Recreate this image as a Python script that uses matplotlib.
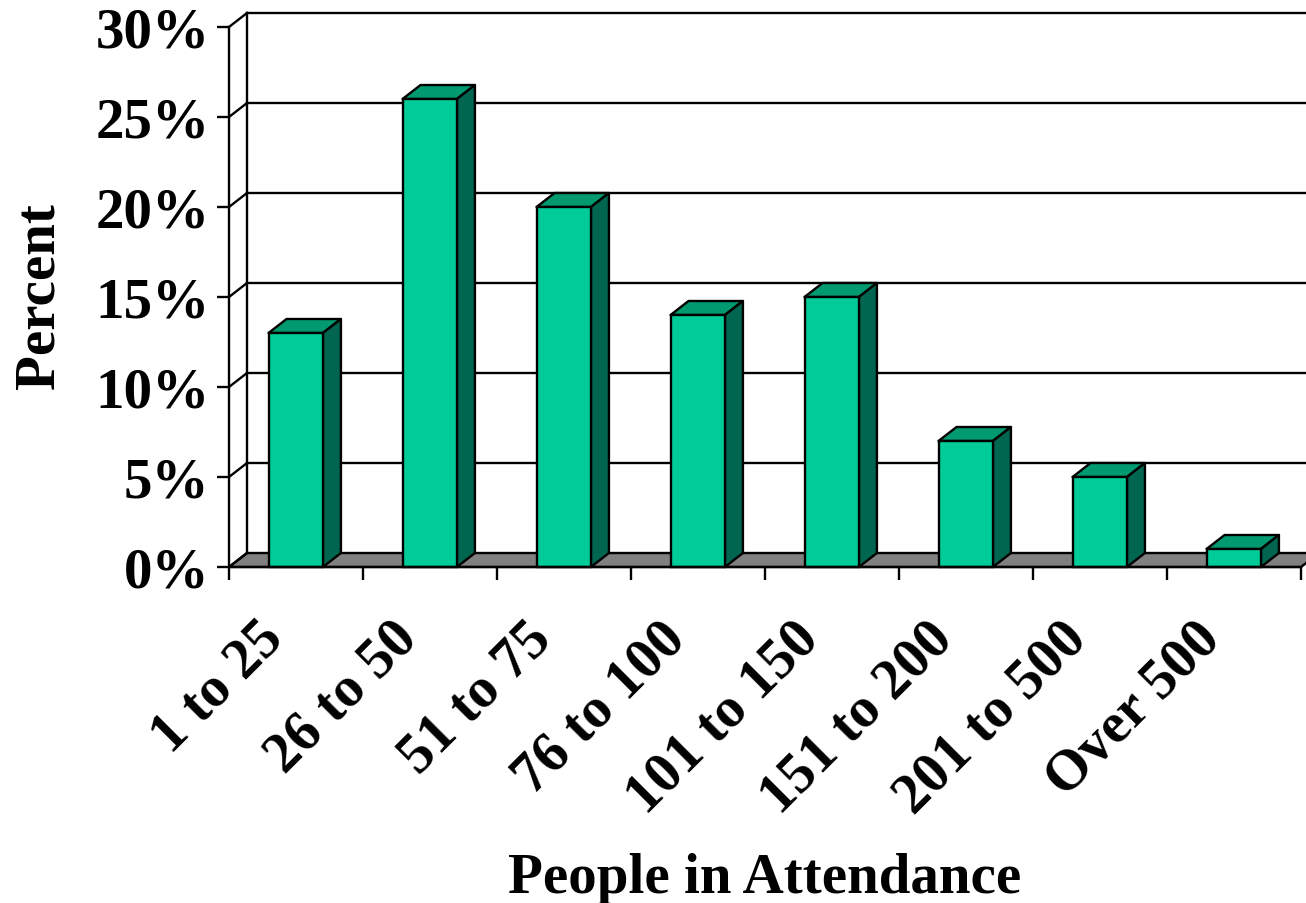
import matplotlib
matplotlib.use('Agg')
import matplotlib.pyplot as plt
from matplotlib.patches import Polygon
import numpy as np

categories = ['1 to 25', '26 to 50', '51 to 75', '76 to 100',
              '101 to 150', '151 to 200', '201 to 500', 'Over 500']
percent = [13, 26, 20, 14, 15, 7, 5, 1]
y_ticks = [0, 5, 10, 15, 20, 25, 30]

plt.rcParams['font.family'] = 'Liberation Serif'
plt.rcParams['font.weight'] = 'bold'

W, H = 1306, 904
fig = plt.figure(figsize=(W / 100, H / 100), dpi=100)
# front plane of the fake 3d box, in pixels from the picture
ax = fig.add_axes([229 / W, (H - 568) / H, 1072 / W, 540 / H])
ax.set_xlim(0, len(categories))
ax.set_ylim(0, 30)
ax.patch.set_visible(False)

# depth of the 3d effect, in data units
dx = 18 / 134
dy = 14 / 18
lw = 1.7
right = len(categories)
font_size = 41

# floor
ax.add_patch(Polygon([(0, 0), (dx, dy), (right + dx, dy), (right, 0)],
                     closed=True, fc='#808080', ec='black', lw=lw, clip_on=False, zorder=1))

# back wall gridlines and the side wall
for t in y_ticks:
    ax.plot([0, dx], [t, t + dy], color='black', lw=lw, clip_on=False, zorder=1)
    if t > 0:
        ax.plot([dx, right + dx], [t + dy, t + dy], color='black', lw=lw, clip_on=False, zorder=1)
ax.plot([dx, dx], [dy, 30 + dy], color='black', lw=lw, clip_on=False, zorder=1)

# bars
bar_left = 0.295
bar_w = 0.406
for i, v in enumerate(percent):
    x0 = i + bar_left
    x1 = x0 + bar_w
    ax.bar(x0, v, width=bar_w, align='edge', color='#00CC99', edgecolor='black',
           linewidth=lw, zorder=4, clip_on=False)
    ax.add_patch(Polygon([(x0, v), (x0 + dx, v + dy), (x1 + dx, v + dy), (x1, v)], closed=True,
                         fc='#009970', ec='black', lw=lw, joinstyle='round', zorder=3, clip_on=False))
    ax.add_patch(Polygon([(x1, 0), (x1 + dx, dy), (x1 + dx, v + dy), (x1, v)], closed=True,
                         fc='#006650', ec='black', lw=lw, joinstyle='round', zorder=3, clip_on=False))

# axes
for s in ['top', 'right']:
    ax.spines[s].set_visible(False)
for s in ['left', 'bottom']:
    ax.spines[s].set_linewidth(lw)
    ax.spines[s].set_zorder(5)

ax.set_yticks(y_ticks)
ax.set_yticklabels([str(t) + '%' for t in y_ticks], fontsize=font_size, fontweight='bold')
ax.tick_params(axis='y', length=9, width=lw, pad=5)

ax.set_xticks(np.arange(0, len(categories) + 1))
ax.tick_params(axis='x', which='major', length=9, width=lw, labelbottom=False)
# labels sit left of the bar centres in the original
ax.set_xticks(np.arange(len(categories)) + 0.205, minor=True)
ax.set_xticklabels(categories, minor=True, rotation=45, ha='right', va='top',
                   rotation_mode='anchor', fontsize=font_size, fontweight='bold')
ax.tick_params(axis='x', which='minor', length=0, pad=32)

fig.text(765 / W, 1 - 879 / H, 'People in Attendance', ha='center', va='center',
         fontsize=font_size, fontweight='bold')
fig.text(40 / W, 1 - 296 / H, 'Percent', ha='center', va='center', rotation=90,
         fontsize=font_size, fontweight='bold')

fig.savefig('out.png', dpi=100)
